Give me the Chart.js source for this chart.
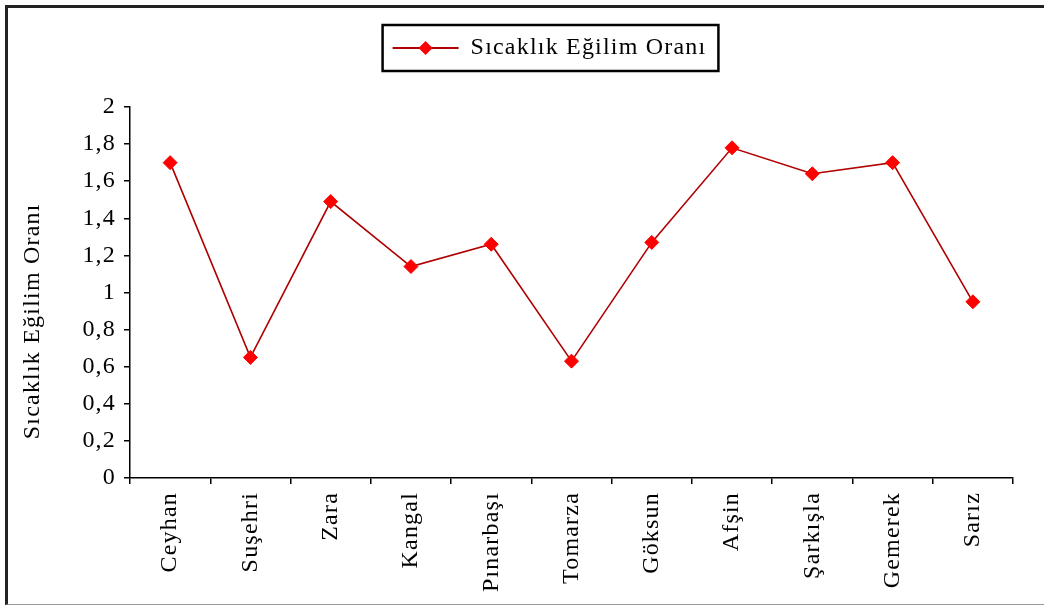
<!DOCTYPE html>
<html>
<head>
<meta charset="utf-8">
<script src="https://cdn.jsdelivr.net/npm/chart.js@4"></script>
<style>
  html, body { margin: 0; padding: 0; background: #fff; }
  #wrap { position: relative; width: 1044px; height: 605px; overflow: hidden; }
  #frame {
    position: absolute; left: 5px; top: 5px; width: 1060px; height: 596px;
    border-left: 3px solid #222; border-top: 3px solid #222; border-bottom: 1px solid #999;
  }
  #chart { position: absolute; left: 0; top: 0; }
</style>
</head>
<body>
<div id="wrap">
  <div id="frame"></div>
  <canvas id="chart" width="1044" height="605"></canvas>
</div>
<script>
const stations = ["Ceyhan", "Suşehri", "Zara", "Kangal", "Pınarbaşı", "Tomarza", "Göksun", "Afşin", "Şarkışla", "Gemerek", "Sarız"];
const trendRatio = [1.70, 0.65, 1.49, 1.14, 1.26, 0.63, 1.27, 1.78, 1.64, 1.70, 0.95];
const seriesName = "Sıcaklık Eğilim Oranı";
const axisTitle = "Sıcaklık Eğilim Oranı";

const FONT = "'Liberation Serif', 'Times New Roman', serif";
const SPACING = '1.2px';

// wider letters like the original Excel rendering
const spacingPlugin = {
    id: 'spacing',
    beforeUpdate(chart) { chart.ctx.letterSpacing = SPACING; },
    beforeDraw(chart) { chart.ctx.letterSpacing = SPACING; }
};

// extra room under the legend, shift it right, then draw its border box + diamond
const legendBox = {
    id: 'legendBox',
    beforeLayout(chart) {
        const lg = chart.legend;
        if (lg && !lg._tall) {
            const fit = lg.fit;
            lg.fit = function() {
                fit.call(this);
                this.height += 37;
            };
            lg._tall = true;
        }
    },
    afterLayout(chart) {
        const lg = chart.legend;
        const dx = 36;
        lg.left += dx;
        lg.right += dx;
        (lg.legendHitBoxes || []).forEach(h => { h.left += dx; });
    },
    afterDraw(chart) {
        const lg = chart.legend;
        const h = lg.legendHitBoxes[0];
        if (!h) return;
        const ctx = chart.ctx;
        const symW = lg.options.labels.pointStyleWidth;
        const cy = h.top + h.height / 2;
        ctx.save();
        ctx.lineWidth = 2.5;
        ctx.strokeStyle = '#000';
        ctx.strokeRect(h.left - 10, cy - 23, h.width + 22, 46);
        const cx = h.left + symW / 2;
        ctx.fillStyle = '#ff0000';
        ctx.beginPath();
        ctx.moveTo(cx, cy - 7);
        ctx.lineTo(cx + 7, cy);
        ctx.lineTo(cx, cy + 7);
        ctx.lineTo(cx - 7, cy);
        ctx.closePath();
        ctx.fill();
        ctx.restore();
    }
};

new Chart(document.getElementById('chart'), {
    type: 'line',
    data: {
        labels: stations,
        datasets: [{
            label: seriesName,
            data: trendRatio,
            borderColor: '#b00000',
            borderWidth: 1.6,
            backgroundColor: '#ff0000',
            pointStyle: 'rectRot',
            pointRadius: 7,
            pointBorderColor: '#ff0000',
            pointBorderWidth: 1,
            pointBackgroundColor: '#ff0000',
            tension: 0,
            fill: false
        }]
    },
    options: {
        responsive: false,
        animation: false,
        layout: { padding: { left: 14, right: 31, top: 0, bottom: 0 } },
        plugins: {
            tooltip: { enabled: false },
            legend: {
                position: 'top',
                labels: {
                    color: '#000',
                    font: { family: FONT, size: 24 },
                    usePointStyle: true,
                    pointStyle: 'line',
                    pointStyleWidth: 66,
                    padding: 36,
                    generateLabels(chart) {
                        return [{
                            text: seriesName,
                            pointStyle: 'line',
                            strokeStyle: '#b00000',
                            fillStyle: '#b00000',
                            lineWidth: 2,
                            datasetIndex: 0
                        }];
                    }
                }
            }
        },
        scales: {
            x: {
                offset: true,
                grid: { offset: true, drawOnChartArea: false, tickLength: 6, color: '#000', lineWidth: 1.5 },
                border: { color: '#000', width: 1.5 },
                ticks: {
                    color: '#000',
                    font: { family: FONT, size: 24 },
                    maxRotation: 90, minRotation: 90,
                    padding: 8,
                    autoSkip: false
                },
                afterFit(s) { s.height = 127; }
            },
            y: {
                min: 0, max: 2,
                grid: { drawOnChartArea: false, tickLength: 6, color: '#000', lineWidth: 1.5 },
                border: { color: '#000', width: 1.5 },
                ticks: {
                    stepSize: 0.2,
                    color: '#000',
                    font: { family: FONT, size: 24 },
                    padding: 8,
                    callback: v => String(Math.round(v * 10) / 10).replace('.', ',')
                },
                title: {
                    display: true,
                    // trailing no-break spaces push the title a bit lower, as in the original
                    text: axisTitle + '\u00a0'.repeat(8),
                    color: '#000',
                    font: { family: FONT, size: 24 },
                    padding: 4
                },
                afterFit(s) { s.width = 116; }
            }
        }
    },
    plugins: [spacingPlugin, legendBox]
});
</script>
</body>
</html>
